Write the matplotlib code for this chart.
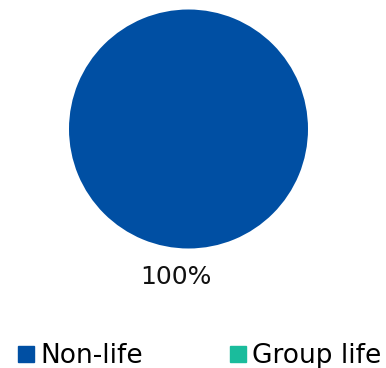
import matplotlib.pyplot as plt
from matplotlib.lines import Line2D

# share of premiums by line of business
categories = ["Non-life", "Group life"]
shares = [100, 0]
colors = ["#004FA3", "#1ABC9C"]

W, H = 386, 368
fig = plt.figure(figsize=(W / 100, H / 100), dpi=100)

cx, cy, r = 188.5, 129, 119.5
ax = fig.add_axes([(cx - r) / W, 1 - (cy + r) / H, 2 * r / W, 2 * r / H])

labels = [f"{v:.0f}%" if v > 0 else "" for v in shares]
wedges, texts = ax.pie(shares, colors=colors, labels=labels, startangle=85,
                       counterclock=False, labeldistance=1.24,
                       textprops={"fontsize": 18, "color": "#111111"},
                       wedgeprops={"linewidth": 0})
for t in texts:
    t.set_ha("center")
ax.set_xlim(-1, 1)
ax.set_ylim(-1, 1)
ax.set_aspect("equal")
ax.axis("off")

handles = [Line2D([], [], marker="s", linestyle="", markersize=11,
                  markerfacecolor=c, markeredgecolor=c) for c in colors]
fig.legend(handles, categories, loc="center", bbox_to_anchor=(199.5 / W, 1 - 356 / H),
           ncol=2, frameon=False, fontsize=19, handlelength=0.6,
           handletextpad=0.25, columnspacing=3.3, borderaxespad=0, borderpad=0)

fig.savefig("out.png", dpi=100)
